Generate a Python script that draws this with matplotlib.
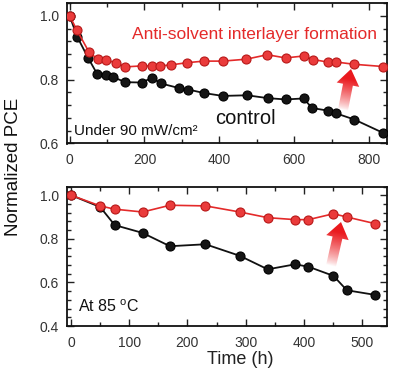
import numpy as np
import matplotlib
matplotlib.use("Agg")
import matplotlib.pyplot as plt
from matplotlib.ticker import MultipleLocator
from matplotlib.patches import Polygon

plt.rcParams['font.family'] = ['Liberation Sans', 'DejaVu Sans']
plt.rcParams['mathtext.fontset'] = 'custom'
plt.rcParams['mathtext.rm'] = 'Liberation Sans'
plt.rcParams['mathtext.it'] = 'Liberation Sans:italic'
plt.rcParams['mathtext.bf'] = 'Liberation Sans:bold'

# ---- data ----
top_red_x = [0, 20, 52, 75, 98, 123, 149, 193, 220, 242, 270, 313, 359, 409, 472, 528, 577, 625, 650, 690, 713, 761, 838]
top_red_y = [1.0, 0.954, 0.886, 0.864, 0.861, 0.853, 0.840, 0.843, 0.843, 0.843, 0.846, 0.853, 0.858, 0.858, 0.864, 0.878, 0.868, 0.874, 0.863, 0.855, 0.855, 0.848, 0.841]
top_black_x = [0, 20, 49, 73, 96, 116, 149, 193, 220, 244, 291, 317, 359, 409, 474, 530, 577, 625, 648, 690, 713, 761, 838]
top_black_y = [1.0, 0.935, 0.869, 0.819, 0.816, 0.808, 0.792, 0.791, 0.806, 0.788, 0.774, 0.769, 0.758, 0.749, 0.751, 0.742, 0.738, 0.741, 0.711, 0.703, 0.694, 0.675, 0.633]

bot_x = [0, 50, 75, 123, 170, 231, 290, 338, 385, 408, 451, 474, 522]
bot_red_y = [1.0, 0.951, 0.936, 0.923, 0.954, 0.951, 0.923, 0.897, 0.888, 0.888, 0.915, 0.900, 0.870]
bot_black_y = [1.0, 0.946, 0.863, 0.827, 0.766, 0.775, 0.722, 0.660, 0.683, 0.672, 0.630, 0.564, 0.543]

W, H = 396, 373
fig = plt.figure(figsize=(W / 100, H / 100), dpi=100)
fig.patch.set_facecolor('white')

def px_ax(l, t, r, b):
    return fig.add_axes([l / W, 1 - b / H, (r - l) / W, (b - t) / H])

ax1 = px_ax(67, 3, 387, 143.5)
ax2 = px_ax(67, 186.5, 387, 326)

RED = '#e42a2a'
RED_FACE = '#ea3b3b'
RED_EDGE = '#b81818'

def style(ax):
    for s in ax.spines.values():
        s.set_linewidth(1.3)
        s.set_color('#111111')
    ax.tick_params(which='both', direction='in', top=True, right=True,
                   color='#222222', labelcolor='#333333', labelsize=10, width=1.0)
    ax.tick_params(which='major', length=5)
    ax.tick_params(which='minor', length=3)
    ax.tick_params(axis='x', pad=7)
    ax.tick_params(axis='y', pad=6)

def plot_series(ax, x, y, kind):
    if kind == 'red':
        ax.plot(x, y, '-', color=RED, lw=1.2, marker='o', ms=6.5,
                mfc=RED_FACE, mec=RED_EDGE, mew=0.8, zorder=4)
    else:
        ax.plot(x, y, '-', color='#111111', lw=1.3, marker='o', ms=6.5,
                mfc='#151515', mec='#000000', mew=0.8, zorder=3)

# top panel
plot_series(ax1, top_black_x, top_black_y, 'black')
plot_series(ax1, top_red_x, top_red_y, 'red')
ax1.set_xlim(-7, 848)
ax1.set_ylim(0.6, 1.04)
ax1.xaxis.set_major_locator(MultipleLocator(200))
ax1.xaxis.set_minor_locator(MultipleLocator(100))
ax1.yaxis.set_major_locator(MultipleLocator(0.2))
ax1.yaxis.set_minor_locator(MultipleLocator(0.04))
ax1.yaxis.set_major_formatter(plt.FuncFormatter(lambda v, p: f"{v:.1f}"))
style(ax1)

# bottom panel
plot_series(ax2, bot_x, bot_black_y, 'black')
plot_series(ax2, bot_x, bot_red_y, 'red')
ax2.set_xlim(-7, 543)
ax2.set_ylim(0.4, 1.04)
ax2.xaxis.set_major_locator(MultipleLocator(100))
ax2.xaxis.set_minor_locator(MultipleLocator(50))
ax2.yaxis.set_major_locator(MultipleLocator(0.2))
ax2.yaxis.set_minor_locator(MultipleLocator(0.04))
ax2.yaxis.set_major_formatter(plt.FuncFormatter(lambda v, p: f"{v:.1f}"))
style(ax2)

# texts
fig.text(254 / W, 1 - 35 / H, 'Anti-solvent interlayer formation', color=RED,
         fontsize=12.5, ha='center', va='center')
fig.text(245 / W, 1 - 118 / H, 'control', color='#111111', fontsize=14.5,
         ha='center', va='center')
fig.text(74 / W, 1 - 131 / H, 'Under 90 mW/cm²', color='#111111',
         fontsize=11, ha='left', va='center')
fig.text(78 / W, 1 - 307 / H, 'At 85 $^{\\mathrm{o}}$C', color='#111111',
         fontsize=11.5, ha='left', va='center')
fig.text(13 / W, 1 - 167 / H, 'Normalized PCE', rotation=90, color='#111111',
         fontsize=13.5, ha='center', va='center')
fig.text(240 / W, 1 - 359 / H, 'Time (h)', color='#222222',
         fontsize=13, ha='center', va='center')

# gradient arrows on an overlay axes in pixel coordinates
ov = fig.add_axes([0, 0, 1, 1], zorder=10)
ov.set_xlim(0, W)
ov.set_ylim(H, 0)
ov.axis('off')
ov.patch.set_alpha(0)

def grad_arrow(tip, base, head_w=23, head_l=16, shaft_w=10):
    tip = np.array(tip, float)
    base = np.array(base, float)
    d = tip - base
    L = np.linalg.norm(d)
    u = d / L
    n = np.array([-u[1], u[0]])
    neck = tip - u * head_l
    pts = [base + n * shaft_w / 2, neck + n * shaft_w / 2, neck + n * head_w / 2,
           tip, neck - n * head_w / 2, neck - n * shaft_w / 2, base - n * shaft_w / 2]
    pts = np.array(pts)
    poly = Polygon(pts, closed=True, facecolor='none', edgecolor='none')
    ov.add_patch(poly)
    x0, y0 = pts.min(axis=0) - 1
    x1, y1 = pts.max(axis=0) + 1
    nx, ny = 80, 80
    xs = np.linspace(x0, x1, nx)
    ys = np.linspace(y0, y1, ny)
    XX, YY = np.meshgrid(xs, ys)
    t = ((XX - base[0]) * u[0] + (YY - base[1]) * u[1]) / L
    t = np.clip(t, 0, 1)
    a = np.clip(t ** 0.8 * 1.25, 0, 1)
    img = np.zeros((ny, nx, 4))
    img[..., 0] = 0.92
    img[..., 1] = 0.10
    img[..., 2] = 0.12
    img[..., 3] = a
    im = ov.imshow(img, extent=(x0, x1, y1, y0), origin='upper', aspect='auto',
                   interpolation='bilinear', zorder=11)
    im.set_clip_path(poly)

grad_arrow((351, 69), (343, 110))
grad_arrow((341, 222), (331, 266))
ov.set_xlim(0, W)
ov.set_ylim(H, 0)

fig.savefig('out.png', dpi=100, facecolor='white')
